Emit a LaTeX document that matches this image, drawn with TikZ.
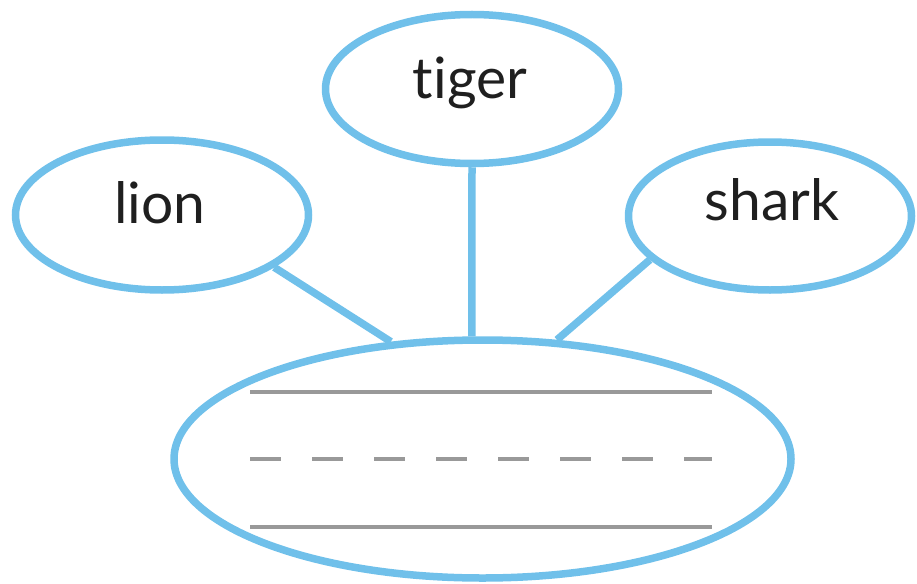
\documentclass[tikz,border=0pt]{standalone}
\usepackage{fontspec}
\setmainfont[Ligatures=NoCommon,RawFeature=-liga]{Lato}
\usetikzlibrary{shapes.geometric}
\definecolor{bubble}{HTML}{70C0EA}
\definecolor{rule}{HTML}{999999}
\begin{document}
\begin{tikzpicture}[x=1pt,y=-1pt,
  bub/.style={ellipse,draw=bubble,line width=7.5pt,inner sep=0pt},
  conn/.style={draw=bubble,line width=7.5pt},
  word/.style={anchor=base,font=\fontsize{57}{63}\selectfont,text=black!88,inner sep=0pt},
  ruleline/.style={draw=rule,line width=4pt}]
\useasboundingbox (0,0) rectangle (917,583);
\node[bub,minimum width=293pt,minimum height=149pt] (tiger) at (472,89) {};
\node[bub,minimum width=293pt,minimum height=150pt] (lion) at (162,215) {};
\node[bub,minimum width=283pt,minimum height=148pt] (shark) at (770,216) {};
\node[bub,minimum width=617pt,minimum height=238pt] (big) at (482.5,459) {};
\node[word] (tigertext) at (470,99) {tiger};
\node[word] (liontext) at (160,223) {lion};
\node[word] (sharktext) at (772,220) {shark};
\draw[conn] (lion.-25) -- (big.128);
\draw[conn] (tiger.south) -- (big.95.5);
\draw[conn] (shark.-160) -- (big.58.5);
\coordinate (r1a) at (250,392); \coordinate (r1b) at (712,392);
\coordinate (r2a) at (250,459); \coordinate (r2b) at (712,459);
\coordinate (r3a) at (250,527); \coordinate (r3b) at (712,527);
\draw[ruleline] (r1a) -- (r1b);
\draw[ruleline,dash pattern=on 31pt off 31pt] (r2a) -- (r2b);
\draw[ruleline] (r3a) -- (r3b);
\end{tikzpicture}
\end{document}
